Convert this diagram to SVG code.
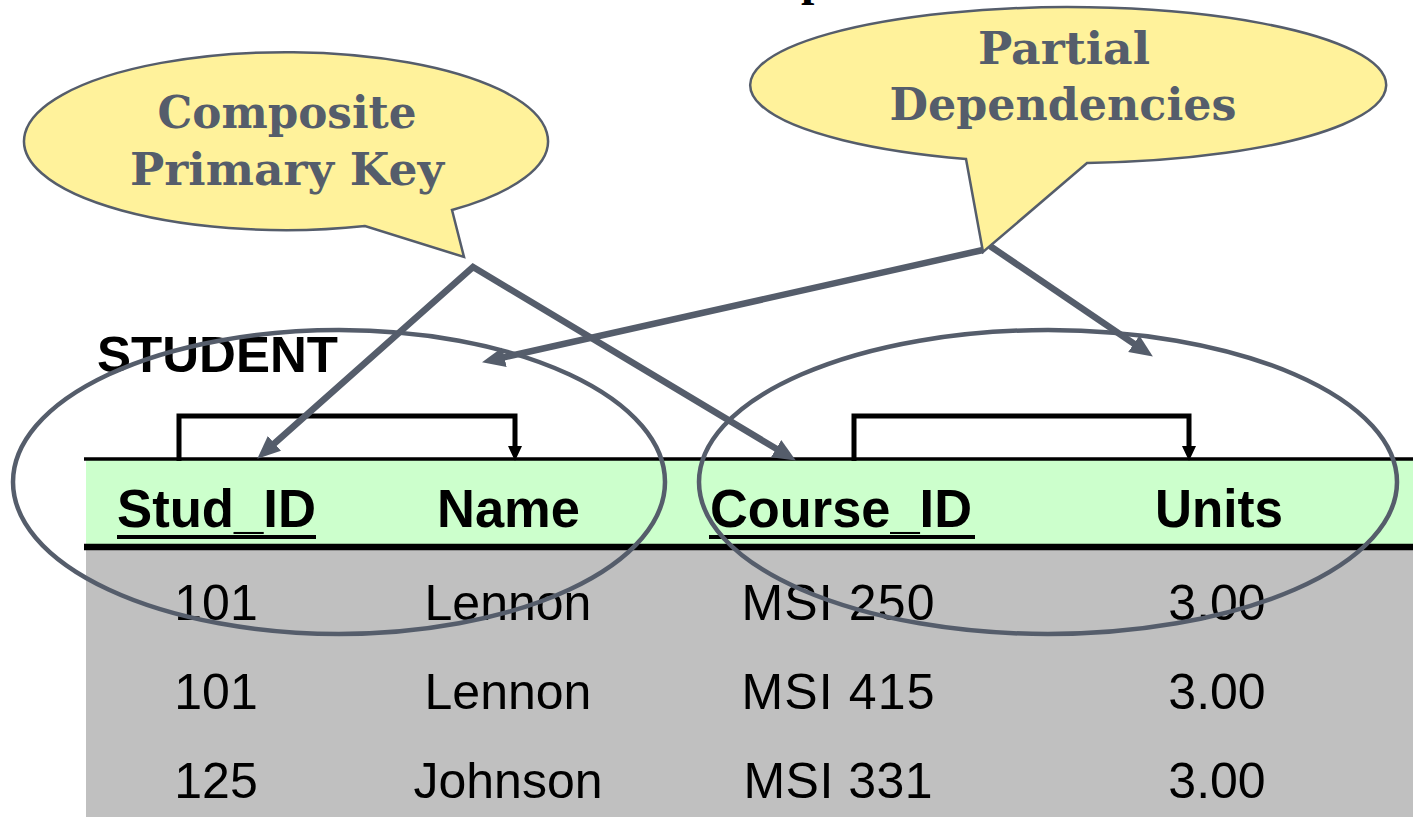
<svg xmlns="http://www.w3.org/2000/svg" width="1413" height="817" viewBox="0 0 1413 817">
<defs>
<style>
.callout{fill:#FFF29B;stroke:#555D6B;stroke-width:2.5}
.ctext{font-family:"DejaVu Serif","Liberation Serif",serif;font-weight:bold;font-size:44px;fill:#555D6B;text-anchor:middle}
.hdr{font-family:"Liberation Sans",Arial,sans-serif;font-weight:bold;font-size:53px;fill:#000}
.cell{font-family:"Liberation Sans",Arial,sans-serif;font-size:50px;fill:#000;text-anchor:middle}
.ring{fill:none;stroke:#555D6B;stroke-width:4.5}
.conn{fill:none;stroke:#555D6B;stroke-width:6.5;stroke-linejoin:miter;stroke-miterlimit:10}
.fd{fill:none;stroke:#000;stroke-width:5}
</style>
<marker id="ga" markerUnits="userSpaceOnUse" markerWidth="24" markerHeight="22" refX="10" refY="10" orient="auto-start-reverse">
<path d="M0,0 L23,10 L0,20 Z" fill="#555D6B"/>
</marker>
<marker id="ba" markerUnits="userSpaceOnUse" markerWidth="16" markerHeight="14" refX="0" refY="7" orient="auto">
<path d="M0,0 L15,7 L0,14 Z" fill="#000"/>
</marker>
</defs>
<rect width="1413" height="817" fill="#fff"/>
<text x="801" y="-5" font-family="Liberation Serif,serif" font-weight="bold" font-size="48" fill="#000">p</text>

<g id="table">
<rect x="86" y="459" width="1327" height="88" fill="#CCFFCC"/>
<rect x="86" y="548" width="1327" height="269" fill="#C0C0C0"/>
<line x1="84" y1="459" x2="1413" y2="459" stroke="#000" stroke-width="3.5"/>
<line x1="84" y1="547" x2="1413" y2="547" stroke="#000" stroke-width="6.5"/>
<text class="hdr" x="117" y="527" textLength="199" lengthAdjust="spacingAndGlyphs">Stud_ID</text>
<rect x="117" y="535" width="199" height="4" fill="#000"/>
<text class="hdr" x="437" y="527" textLength="143" lengthAdjust="spacingAndGlyphs">Name</text>
<text class="hdr" x="710" y="527" textLength="262" lengthAdjust="spacingAndGlyphs">Course_ID</text>
<rect x="709" y="535" width="266" height="4" fill="#000"/>
<text class="hdr" x="1155" y="527" textLength="128" lengthAdjust="spacingAndGlyphs">Units</text>
<text class="cell" x="216" y="620">101</text>
<text class="cell" x="508" y="620">Lennon</text>
<text class="cell" x="838" y="620" textLength="193">MSI 250</text>
<text class="cell" x="1217" y="620">3.00</text>
<text class="cell" x="216" y="709">101</text>
<text class="cell" x="508" y="709">Lennon</text>
<text class="cell" x="838" y="709" textLength="193">MSI 415</text>
<text class="cell" x="1217" y="709">3.00</text>
<text class="cell" x="216" y="798">125</text>
<text class="cell" x="508" y="798">Johnson</text>
<text class="cell" x="838" y="798" textLength="189">MSI 331</text>
<text class="cell" x="1217" y="798">3.00</text>
</g>

<g id="student-label">
<text x="97" y="372" font-family="Liberation Sans,Arial,sans-serif" font-weight="bold" font-size="50" textLength="241" lengthAdjust="spacingAndGlyphs">STUDENT</text>
</g>

<g id="fd-brackets">
<path class="fd" d="M179,461 V416 H515 V446" marker-end="url(#ba)"/>
<path class="fd" d="M854,461 V416 H1189 V446" marker-end="url(#ba)"/>
</g>

<g id="ring-left"><ellipse class="ring" cx="339" cy="482" rx="326" ry="152"/></g>
<g id="ring-right"><ellipse class="ring" cx="1048" cy="482" rx="349" ry="152"/></g>

<g id="callout-key">
<path class="callout" d="M452,210 A262,89 0 1 0 365,226 L464,257 Z"/>
<text class="ctext" x="287" y="128" textLength="259" lengthAdjust="spacingAndGlyphs">Composite</text>
<text class="ctext" x="287" y="185" textLength="314" lengthAdjust="spacingAndGlyphs">Primary Key</text>
</g>

<g id="callout-partial">
<path class="callout" d="M1087,163 A318,78 0 1 0 966,159 L983,252 Z"/>
<text class="ctext" x="1064" y="64" textLength="172" lengthAdjust="spacingAndGlyphs">Partial</text>
<text class="ctext" x="1063" y="120" textLength="347" lengthAdjust="spacingAndGlyphs">Dependencies</text>
</g>

<g id="connectors">
<path class="conn" d="M267,450 L473,267 L784.7,453.8" marker-start="url(#ga)" marker-end="url(#ga)"/>
<path class="conn" d="M983,250 L494.7,359.4" marker-end="url(#ga)"/>
<path class="conn" d="M990,246 L1142.1,349.3" marker-end="url(#ga)"/>
</g>
</svg>
